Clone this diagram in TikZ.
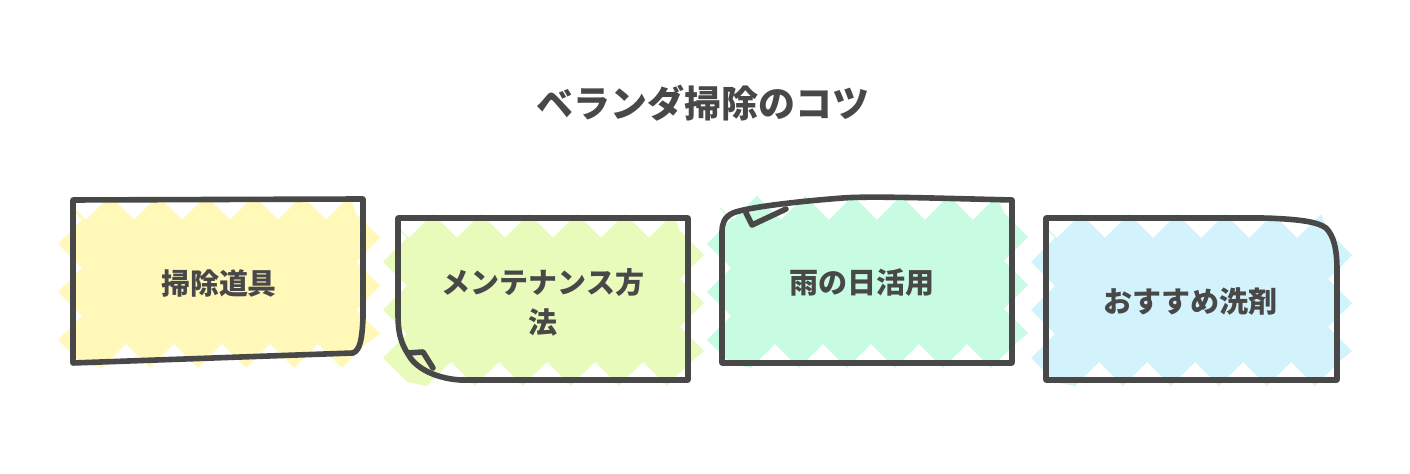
\documentclass[tikz,border=0pt]{standalone}
\usepackage{fontspec}
\setmainfont{Noto Sans CJK JP}
\usetikzlibrary{decorations.pathmorphing}
\definecolor{ink}{HTML}{484848}
\definecolor{tipA}{HTML}{FFF8B9}
\definecolor{tipB}{HTML}{E8FBBB}
\definecolor{tipC}{HTML}{C7FCE2}
\definecolor{tipD}{HTML}{D3F3FC}
\begin{document}
\begin{tikzpicture}[x=0.5pt,y=-0.5pt,
		rough/.style={draw=ink, line width=2.8pt, line join=round, line cap=round},
		hatch/.style={decorate, decoration={zigzag, segment length=24pt, amplitude=6pt}},
		tiplabel/.style={text=ink, align=center, font=\bfseries\fontsize{14.5}{20}\selectfont}]
		\useasboundingbox (0,0) rectangle (1410,474);

		\node[text=ink, font=\bfseries\fontsize{18.5}{22}\selectfont] (title) at (703,103) {ベランダ掃除のコツ};

		% 掃除道具
		\fill[tipA, hatch] (70,208) rectangle (368,356);
		\draw[rough] (73,200) -- (363,199) -- (363,318) .. controls (362,340) and (360,350) .. (353,353) -- (73,363) -- cycle;
		\node[tiplabel] (tools) at (219,283) {掃除道具};

		% メンテナンス方法
		\fill[tipB, hatch] (395,226) rectangle (692,374);
		\draw[rough] (398,218) -- (688,218) -- (688,380) -- (460,380) .. controls (432,378) and (414,366) .. (408,354) .. controls (400,342) and (398,330) .. (398,315) -- cycle;
		\draw[rough] (408,353) -- (423,352) -- (433,368);
		\node[tiplabel] (care) at (543,302) {メンテナンス方\\法};

		% 雨の日活用
		\fill[tipC, hatch] (719,208) rectangle (1016,356);
		\draw[rough] (722,363) -- (1012,363) -- (1012,200) .. controls (930,198) and (870,196) .. (843,198) .. controls (790,202) and (745,208) .. (733,213) .. controls (724,217) and (722,224) .. (722,232) -- cycle;
		\draw[rough] (746,213) -- (752,225) -- (786,209);
		\node[tiplabel] (rain) at (862,283) {雨の日活用};

		% おすすめ洗剤
		\fill[tipD, hatch] (1043,226) rectangle (1340,374);
		\draw[rough] (1046,218) -- (1262,218) .. controls (1300,219) and (1318,222) .. (1326,228) .. controls (1334,236) and (1337,250) .. (1337,270) -- (1337,380) -- (1046,380) -- cycle;
		\node[tiplabel] (cleaner) at (1190,302) {おすすめ洗剤};
	\end{tikzpicture}
\end{document}
